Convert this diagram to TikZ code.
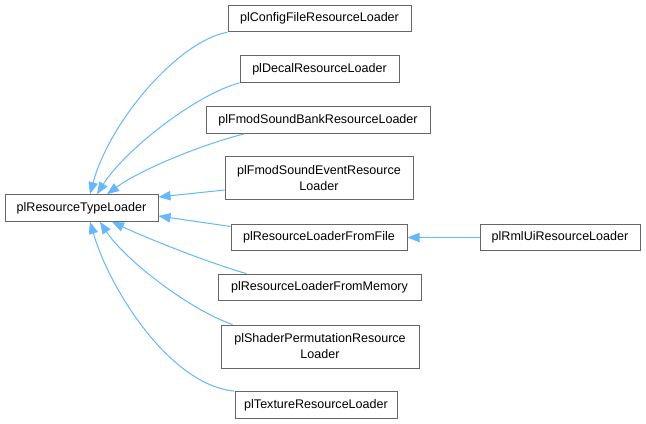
\documentclass[tikz,border=0pt]{standalone}
\usepackage{fontspec}
\setmainfont{Liberation Sans}
\usetikzlibrary{arrows.meta,calc}
\definecolor{edgeblue}{HTML}{63B8FF}
\definecolor{boxgray}{HTML}{666666}

\begin{document}
\begin{tikzpicture}[x=0.75pt,y=-0.75pt,>={Triangle[length=9pt,width=7pt]},
  cls/.style={draw=boxgray,fill=white,line width=0.75pt,inner sep=0pt,
    minimum height=20pt,align=center,font=\fontsize{9.4}{12}\selectfont},
  inh/.style={<-,edgeblue,line width=0.75pt}]
  \useasboundingbox[fill=white] (0,0) rectangle (646,424);
  % base class and derived classes
  \node[cls,minimum width=114.75pt] (root) at (81.5,208) {plResourceTypeLoader};
  \node[cls,minimum width=137.25pt] (config) at (319.5,18.5) {plConfigFileResourceLoader};
  \node[cls,minimum width=119.25pt] (decal) at (319.5,69) {plDecalResourceLoader};
  \node[cls,minimum width=168pt] (bank) at (318,120) {plFmodSoundBankResourceLoader};
  \node[cls,minimum width=141pt,minimum height=32.25pt] (event) at (319,178.5) {plFmodSoundEventResource\\Loader};
  \node[cls,minimum width=132pt] (file) at (319,237.5) {plResourceLoaderFromFile};
  \node[cls,minimum width=152.25pt] (memory) at (319.5,287.5) {plResourceLoaderFromMemory};
  \node[cls,minimum width=148.5pt,minimum height=32.25pt] (shader) at (320,346.5) {plShaderPermutationResource\\Loader};
  \node[cls,minimum width=121.5pt] (texture) at (316,405) {plTextureResourceLoader};
  \node[cls,minimum width=120pt] (rmlui) at (560,237.5) {plRmlUiResourceLoader};
  % inheritance edges
  \draw[inh] ($(root.north)+(8.5,0)$) .. controls (110,120) and (180,40) .. (config.south west);
  \draw[inh] ($(root.north)+(15.5,0)$) .. controls (125,150) and (195,95) .. (decal.south west);
  \draw[inh] ($(root.north)+(25.5,0)$) .. controls (140,170) and (200,145) .. ($(bank.south west)+(39,0)$);
  \draw[inh] ($(root.east)+(0,-11)$) -- ($(event.west)+(0,11.5)$);
  \draw[inh] ($(root.east)+(0,8)$) -- ($(file.west)+(0,-11)$);
  \draw[inh] ($(root.south)+(30.5,0)$) .. controls (140,235) and (200,260) .. ($(memory.north west)+(29,0)$);
  \draw[inh] ($(root.south)+(18.5,0)$) .. controls (125,260) and (190,310) .. ($(shader.north west)+(12,0)$);
  \draw[inh] ($(root.south)+(8.5,0)$) .. controls (110,290) and (170,385) .. (texture.north west);
  \draw[inh] (file) -- (rmlui);
\end{tikzpicture}
\end{document}
